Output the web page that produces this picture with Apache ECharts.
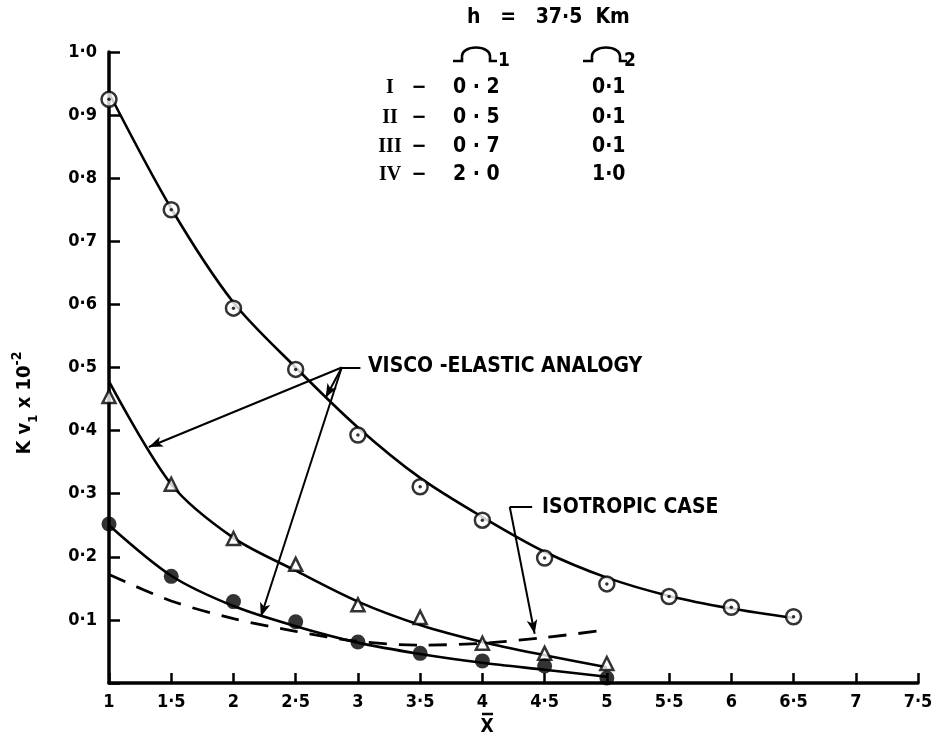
<!DOCTYPE html>
<html><head><meta charset="utf-8">
<script src="https://cdn.jsdelivr.net/npm/echarts@6/dist/echarts.min.js"></script>
<style>html,body{margin:0;padding:0;background:#fff}#c{width:942px;height:751px}</style>
</head><body><div id="c"></div>
<script>
// ---- data ----
const xAll = [1, 1.5, 2, 2.5, 3, 3.5, 4, 4.5, 5, 5.5, 6, 6.5];
const x5 = [1, 1.5, 2, 2.5, 3, 3.5, 4, 4.5, 5];
// Curve I (open circles)
const ptsI = [0.925, 0.750, 0.594, 0.497, 0.393, 0.311, 0.258, 0.198, 0.157, 0.137, 0.120, 0.105];
const lineIx = [1, 1.5, 2, 2.5, 3, 3.5, 4, 4.5, 5, 5.5, 6, 6.5];
const lineI = [0.935, 0.752, 0.603, 0.500, 0.405, 0.325, 0.263, 0.208, 0.167, 0.138, 0.118, 0.103];
// Curve II (open triangles)
const ptsII = [0.454, 0.315, 0.229, 0.188, 0.124, 0.104, 0.063, 0.047, 0.031];
const lineIIx = [1, 1.5, 2, 2.5, 3, 3.5, 4, 4.5, 5];
const lineII = [0.478, 0.315, 0.230, 0.178, 0.129, 0.092, 0.065, 0.044, 0.025];
// Curve III (filled circles)
const ptsIII = [0.252, 0.169, 0.129, 0.097, 0.065, 0.047, 0.035, 0.027, 0.008];
const lineIIIx = [1, 1.5, 2, 2.5, 3, 3.5, 4, 4.5, 5];
const lineIII = [0.250, 0.170, 0.122, 0.090, 0.064, 0.046, 0.032, 0.021, 0.010];
// Isotropic case (dashed)
const isoX = [1, 1.5, 2, 2.5, 3, 3.5, 4, 4.5, 4.95];
const isoY = [0.172, 0.130, 0.102, 0.082, 0.066, 0.060, 0.063, 0.072, 0.083];
// Legend table
const romans = ['I', 'II', 'III', 'IV'];
const omega1 = ['0 · 2', '0 · 5', '0 · 7', '2 · 0'];
const omega2 = ['0·1', '0·1', '0·1', '1·0'];
// Annotation anchors (data units)
const viscoFrom = [2.87, 0.50];
const viscoTo = [[1.32, 0.374], [2.74, 0.452], [2.22, 0.105]];
const isoFrom = [4.22, 0.279];
const isoTo = [4.42, 0.078];

const zip = (xs, ys) => xs.map((x, i) => [x, ys[i]]);
const FF = "'Liberation Sans Narrow','DejaVu Sans Condensed','Liberation Sans',sans-serif";
const dot = v => String(v).replace('.', '·');

const chart = echarts.init(document.getElementById('c'), null, {renderer: 'canvas'});
const solid = {color: '#000', width: 2.6};
const arrowLines = viscoTo.map(t => [{coord: viscoFrom}, {coord: t}]);
arrowLines.push([{coord: isoFrom}, {coord: isoTo}]);

function omega(x0, sub, subX) {
  // hand-lettered Omega: foot, arch, foot
  return [
    {type: 'polyline', silent: true, shape: {points: [[x0, 61], [x0 + 9, 61], [x0 + 9, 58]]}, style: {stroke: '#000', lineWidth: 2.6, fill: null}},
    {type: 'bezierCurve', silent: true, shape: {x1: x0 + 9, y1: 58, cpx1: x0 + 7, cpy1: 44, cpx2: x0 + 39, cpy2: 44, x2: x0 + 37, y2: 58}, style: {stroke: '#000', lineWidth: 2.6, fill: null}},
    {type: 'polyline', silent: true, shape: {points: [[x0 + 37, 58], [x0 + 37, 61], [x0 + 44, 61]]}, style: {stroke: '#000', lineWidth: 2.6, fill: null}},
    {type: 'text', x: subX, y: 61, silent: true, style: {text: sub, fill: '#000', font: 'bold 19px ' + FF, textAlign: 'left', textVerticalAlign: 'middle'}}
  ];
}

chart.setOption({
  animation: false,
  backgroundColor: '#fff',
  grid: {left: 109, right: 24, top: 52, bottom: 68},
  xAxis: {
    type: 'value', min: 1, max: 7.5, interval: 0.5,
    axisLine: {lineStyle: {color: '#000', width: 3.5}},
    axisTick: {inside: true, length: 10, lineStyle: {color: '#000', width: 2.5}},
    axisLabel: {formatter: dot, color: '#000', fontSize: 18, fontWeight: 'bold', fontFamily: FF, margin: 10},
    splitLine: {show: false}
  },
  yAxis: {
    type: 'value', min: 0, max: 1, interval: 0.1,
    axisLine: {lineStyle: {color: '#000', width: 3.5}},
    axisTick: {inside: true, length: 11, lineStyle: {color: '#000', width: 2.5}},
    axisLabel: {formatter: v => v === 0 ? '' : v.toFixed(1).replace('.', '·'), color: '#000', fontSize: 18, fontWeight: 'bold', fontFamily: FF, margin: 12},
    splitLine: {show: false}
  },
  series: [
    {type: 'line', data: zip(lineIx, lineI), smooth: 0.3, showSymbol: false, lineStyle: solid,
      markLine: {silent: true, symbol: ['none', 'arrow'], symbolSize: [8, 14], label: {show: false},
        lineStyle: {type: 'solid', color: '#000', width: 2}, data: arrowLines}},
    {type: 'line', data: zip(lineIIx, lineII), smooth: 0.3, showSymbol: false, lineStyle: solid},
    {type: 'line', data: zip(lineIIIx, lineIII), smooth: 0.3, showSymbol: false, lineStyle: solid},
    {type: 'line', data: zip(isoX, isoY), smooth: 0.3, showSymbol: false, lineStyle: {color: '#000', width: 2.8, type: [18, 12]},
      markLine: {silent: true, symbol: ['none', 'none'], label: {show: false}, lineStyle: {type: 'solid', color: '#000', width: 2},
        data: [[{coord: viscoFrom}, {coord: [viscoFrom[0] + 0.15, viscoFrom[1]]}], [{coord: isoFrom}, {coord: [isoFrom[0] + 0.18, isoFrom[1]]}]]}},
    {type: 'scatter', data: zip(xAll, ptsI), symbol: 'circle', symbolSize: 15, itemStyle: {color: '#fff', borderColor: '#000', borderWidth: 2.5}, z: 5},
    {type: 'scatter', data: zip(xAll, ptsI), symbol: 'circle', symbolSize: 3.5, itemStyle: {color: '#000'}, z: 6},
    {type: 'scatter', data: zip(x5, ptsII), symbol: 'triangle', symbolSize: 13, itemStyle: {color: '#fff', borderColor: '#000', borderWidth: 2.5}, z: 5},
    {type: 'scatter', data: zip(x5, ptsIII), symbol: 'circle', symbolSize: 15, itemStyle: {color: '#000'}, z: 5}
  ],
  graphic: (function () {
    let g = [];
    const T = (text, x, y, size, align, extra) => Object.assign({type: 'text', x: x, y: y, silent: true,
      style: {text: text, fill: '#000', font: 'bold ' + size + 'px ' + FF, textAlign: align || 'left', textVerticalAlign: 'middle'}}, extra || {});
    g.push(T('h   =   37·5  Km', 467, 18, 21));
    g = g.concat(omega(453, '1', 498));
    g = g.concat(omega(583, '2', 624));
    const rowsY = [88, 118, 147, 175];
    romans.forEach((r, i) => {
      g.push({type: 'text', x: 390, y: rowsY[i], silent: true, style: {text: r, fill: '#000', font: 'bold 20px "Liberation Serif",serif', textAlign: 'center', textVerticalAlign: 'middle'}});
      g.push(T('−', 419, rowsY[i], 20, 'center'));
      g.push(T(omega1[i], 453, rowsY[i], 21));
      g.push(T(omega2[i], 592, rowsY[i], 21));
    });
    g.push(T('VISCO -ELASTIC ANALOGY', 368, 367, 21));
    g.push(T('ISOTROPIC CASE', 542, 508, 21));
    g.push(T('X', 487, 727, 19, 'center'));
    g.push({type: 'line', silent: true, shape: {x1: 482, y1: 714, x2: 493, y2: 714}, style: {stroke: '#000', lineWidth: 2.5}});
    g.push({type: 'text', x: 25, y: 403, rotation: Math.PI / 2, silent: true,
      style: {text: '{n|K v}{s|1}{n| x 10}{p|-2}', fill: '#000', textAlign: 'center', textVerticalAlign: 'middle',
        rich: {n: {font: 'bold 20px ' + FF, lineHeight: 30, verticalAlign: 'middle'},
               s: {font: 'bold 13px ' + FF, lineHeight: 30, verticalAlign: 'bottom'},
               p: {font: 'bold 14px ' + FF, lineHeight: 30, verticalAlign: 'top'}}}});
    return g;
  })()
});
</script></body></html>
